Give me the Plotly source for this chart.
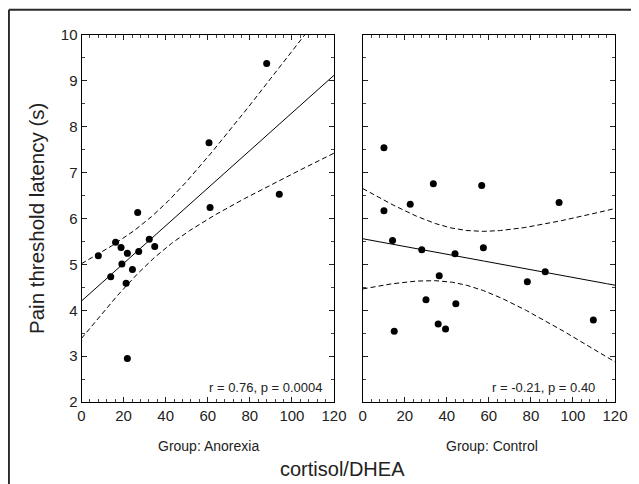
import numpy as np
import plotly.graph_objects as go

# ---- data ----
anorexia_x = [88.0, 60.6, 94.0, 61.1, 26.7, 8.0, 16.2, 18.8, 21.8, 32.2, 34.8, 27.2, 19.2, 24.2, 13.9, 21.2, 21.8]
anorexia_y = [9.38, 7.65, 6.53, 6.24, 6.13, 5.19, 5.48, 5.37, 5.24, 5.55, 5.39, 5.28, 5.01, 4.89, 4.73, 4.59, 2.95]

control_x = [10.1, 33.6, 56.6, 93.4, 22.6, 10.1, 14.2, 28.1, 43.9, 57.4, 86.8, 78.3, 36.4, 30.1, 44.3, 35.9, 39.4, 15.0, 109.7]
control_y = [7.54, 6.76, 6.72, 6.35, 6.31, 6.17, 5.52, 5.32, 5.23, 5.36, 4.84, 4.62, 4.75, 4.23, 4.14, 3.70, 3.59, 3.54, 3.79]

x_ticks = [0, 20, 40, 60, 80, 100, 120]
y_ticks = [2, 3, 4, 5, 6, 7, 8, 9, 10]
group_labels = ["Group: Anorexia", "Group: Control"]
stat_labels = ["r = 0.76, p = 0.0004", "r = -0.21, p = 0.40"]

# two-sided 95% t critical values by degrees of freedom
T_CRIT = {15: 2.131, 16: 2.120, 17: 2.110}


def fit_band(x, y):
    x = np.asarray(x, float)
    y = np.asarray(y, float)
    n = len(x)
    b, a = np.polyfit(x, y, 1)
    xs = np.linspace(x_ticks[0], x_ticks[-1], 301)
    yhat = a + b * xs
    resid = y - (a + b * x)
    s = np.sqrt(np.sum(resid ** 2) / (n - 2))
    xm = x.mean()
    sxx = np.sum((x - xm) ** 2)
    se = s * np.sqrt(1.0 / n + (xs - xm) ** 2 / sxx)
    t = T_CRIT[n - 2]
    return xs, yhat, yhat - t * se, yhat + t * se


fig = go.Figure()

for i, (gx, gy) in enumerate([(anorexia_x, anorexia_y), (control_x, control_y)]):
    xa = "x" if i == 0 else "x2"
    ya = "y" if i == 0 else "y2"
    xs, yhat, lo, hi = fit_band(gx, gy)
    fig.add_trace(go.Scatter(x=xs, y=yhat, mode="lines", xaxis=xa, yaxis=ya,
                             line=dict(color="black", width=1), hoverinfo="skip"))
    for band in (lo, hi):
        fig.add_trace(go.Scatter(x=xs, y=band, mode="lines", xaxis=xa, yaxis=ya,
                                 line=dict(color="black", width=1, dash="5px,3px"), hoverinfo="skip"))
    fig.add_trace(go.Scatter(x=gx, y=gy, mode="markers", xaxis=xa, yaxis=ya,
                             marker=dict(color="black", size=7)))

# page has an 8px body margin; the figure fills the rest of the 639x484 window
OFF = 8
W, H = 639 - OFF, 484 - OFF


def px(x):
    return (x - OFF) / W


def py(y):
    return 1 - (y - OFF) / H


tickfont = dict(family="Liberation Sans, Arial", size=15, color="#222")


def xaxis_cfg(domain, anchor):
    return dict(domain=domain, anchor=anchor, range=[x_ticks[0], x_ticks[-1]],
                tickmode="array", tickvals=x_ticks, ticktext=[str(v) for v in x_ticks],
                ticks="inside", ticklen=5, tickcolor="#222", tickwidth=1,
                minor=dict(dtick=4, tick0=0, ticks="inside", ticklen=3, tickcolor="#444"),
                showline=True, linecolor="black", linewidth=1, mirror="allticks",
                showgrid=False, zeroline=False, tickfont=tickfont, automargin=False)


def yaxis_cfg(domain, anchor, labels):
    return dict(domain=domain, anchor=anchor, range=[y_ticks[0], y_ticks[-1]],
                tickmode="array", tickvals=y_ticks, ticktext=[str(v) for v in y_ticks],
                showticklabels=labels,
                ticks="inside", ticklen=5, tickcolor="#222", tickwidth=1,
                minor=dict(dtick=0.5, tick0=0, ticks="inside", ticklen=3, tickcolor="#444"),
                showline=True, linecolor="black", linewidth=1, mirror="allticks",
                showgrid=False, zeroline=False, tickfont=tickfont, automargin=False)


ydom = [py(402), py(35)]
fig.update_layout(
    template="none",
    width=W, height=H, autosize=False,
    margin=dict(l=0, r=0, t=0, b=0, pad=0, autoexpand=False),
    paper_bgcolor="white", plot_bgcolor="white", showlegend=False,
    xaxis=xaxis_cfg([px(81.5), px(334)], "y"),
    yaxis=yaxis_cfg(ydom, "x", True),
    xaxis2=xaxis_cfg([px(362.7), px(615)], "y2"),
    yaxis2=yaxis_cfg(ydom, "x2", False),
)

font = "Liberation Sans, Arial"
ann = [
    dict(text=group_labels[0], x=px(208), y=py(446), font=dict(size=14)),
    dict(text=group_labels[1], x=px(492), y=py(446), font=dict(size=14)),
    dict(text="cortisol/DHEA", x=px(342), y=py(469), font=dict(size=20)),
    dict(text="Pain threshold latency (s)", x=px(36), y=py(219), textangle=-90, font=dict(size=20.5)),
    dict(text=stat_labels[0], x=px(323.5), y=py(387), xanchor="right", font=dict(size=13)),
    dict(text=stat_labels[1], x=px(597), y=py(387), xanchor="right", font=dict(size=13)),
]
for a in ann:
    a.setdefault("xanchor", "center")
    a.update(xref="paper", yref="paper", yanchor="middle", showarrow=False)
    a["font"].update(family=font, color="#222")
fig.update_layout(annotations=ann)

# outer frame (left and top edges visible)
fx, fy = px(8.9), py(9.7)
fig.add_shape(type="line", xref="paper", yref="paper", x0=fx, x1=fx, y0=-0.05, y1=fy,
              line=dict(color="#2a2a2a", width=2))
fig.add_shape(type="line", xref="paper", yref="paper", x0=fx, x1=1.05, y0=fy, y1=fy,
              line=dict(color="#2a2a2a", width=2))

fig.write_html("out.html")
